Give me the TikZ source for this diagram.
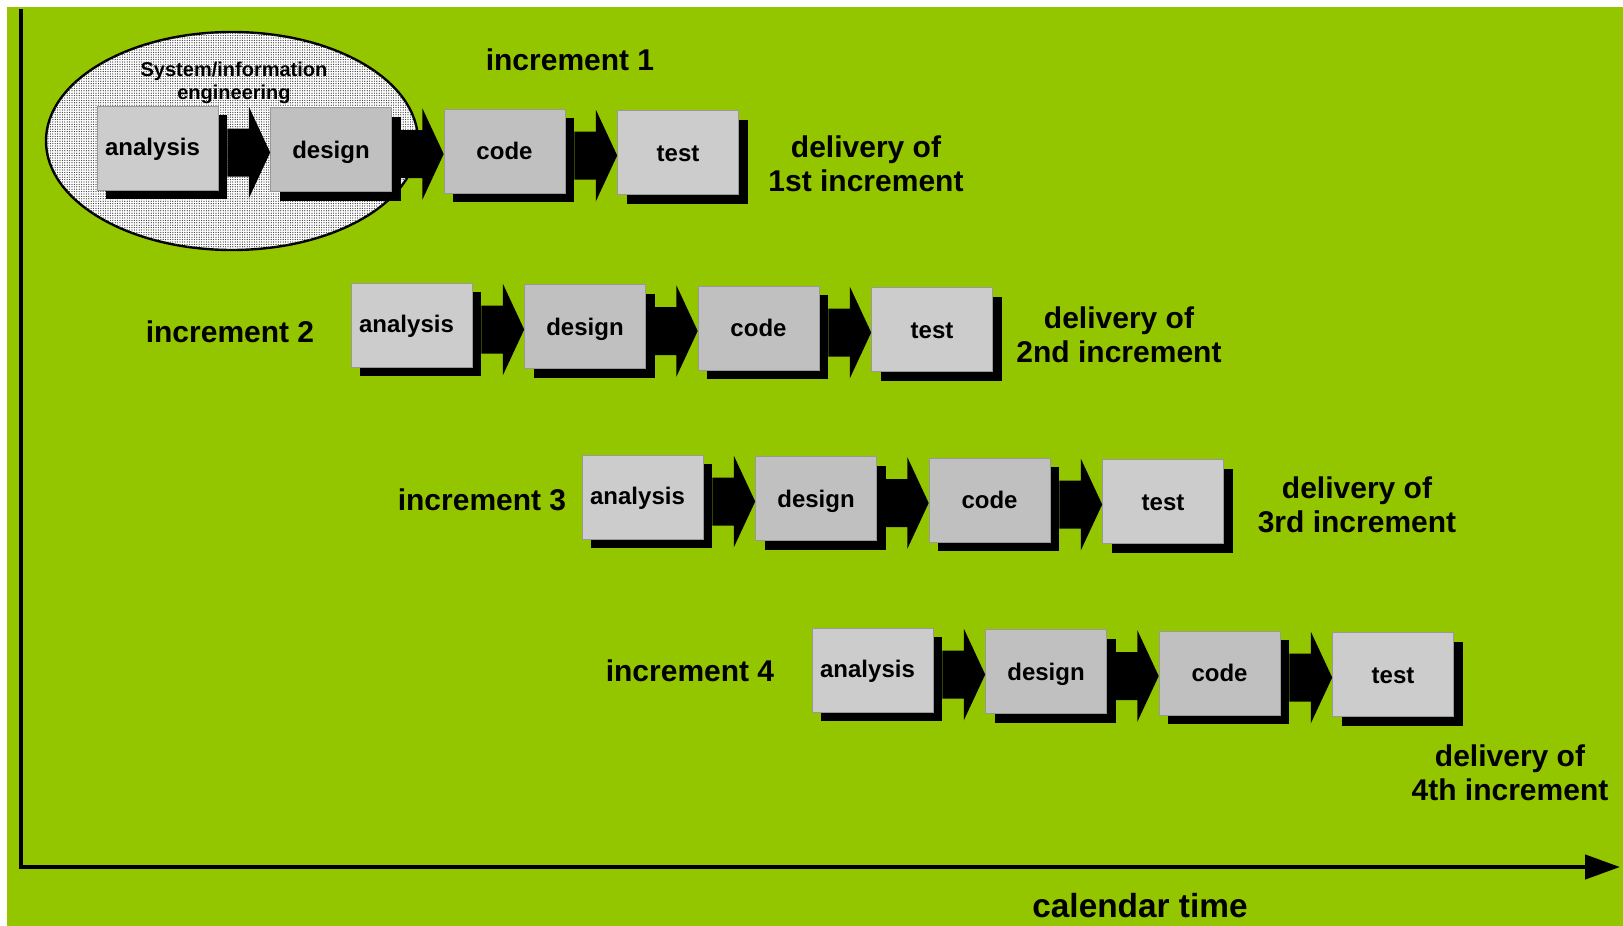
\documentclass[tikz,border=0pt]{standalone}
\usepackage{fontspec}
\setmainfont{Liberation Sans}
\usetikzlibrary{calc,shadows,arrows.meta,patterns.meta}
\definecolor{slidegreen}{RGB}{148,198,0}
\definecolor{lightbox}{RGB}{204,204,204}
\definecolor{darkbox}{RGB}{192,192,192}

\begin{document}
\begin{tikzpicture}[x=0.5pt,y=-0.5pt]
	\tikzstyle{stage} = [minimum width=60.5pt,minimum height=42pt,inner sep=0pt,text height=8.6pt,text depth=0pt,draw=black!40,line width=0.3pt,font=\fontsize{12}{14}\selectfont\bfseries,drop shadow={shadow xshift=4.5pt,shadow yshift=-4.5pt,fill=black,opacity=1}]
	\tikzstyle{heading} = [font=\fontsize{15}{17}\selectfont\bfseries,align=center]
	% background
	\fill[white] (0,0) rectangle (1623,926);
	\fill[slidegreen] (7,7) rectangle (1623,926);
	\useasboundingbox (0,0) rectangle (1623,926);
	% system/information engineering
	\draw[line width=1.2pt,fill=white,postaction={pattern={Dots[distance=1.2pt,radius=0.32pt]},pattern color=black!80}] (232,141) ellipse [x radius=93pt,y radius=54.5pt];
	\node[font=\fontsize{10}{11.5}\selectfont\bfseries,align=center] (sysinfo) at (234,83) {System/information\\engineering};
	% time axis
	\draw[line width=2.2pt,-{Triangle[length=17.5pt,width=12pt]}] (21,9) |- (1620,867);
	\node[font=\fontsize{16.7}{19}\selectfont\bfseries] (caltime) at (1140,906) {calendar time};
	% increments
	\foreach \i/\px/\py in {1/97/106,2/351/283,3/582/455,4/812/628}{
		\foreach \s/\c/\sx/\sy [count=\j from 0] in {analysis/lightbox/5pt/0.8pt,design/darkbox/0pt/0pt,code/darkbox/0pt/0pt,test/lightbox/0pt/0pt}
			\node[stage,fill=\c] (\s\i) at ({\px+60.5+\j*173.5},{\py+42+\j*1.5}) {\raisebox{\sy}{\s}\hspace*{\sx}};
		% block arrows between stages
		\foreach \a/\b in {analysis/design,design/code,code/test}
			\fill let \p1=(\a\i.east), \p2=(\b\i.west) in
				(\x1+4.5pt,\y1+9.75pt) -- ({(\x1+4.5pt+\x2)/2},\y1+9.75pt) -- ({(\x1+4.5pt+\x2)/2},\y1+20.75pt)
				-- (\x2,\y1-2.25pt)
				-- ({(\x1+4.5pt+\x2)/2},\y1-25.25pt) -- ({(\x1+4.5pt+\x2)/2},\y1-14.25pt) -- (\x1+4.5pt,\y1-14.25pt) -- cycle;
	}
	% increment and delivery labels
	\foreach \i/\lx/\ly/\dx/\dy/\nth in {1/570/60/866/164/1st,2/230/332/1119/335/2nd,3/482/500/1357/505/3rd,4/690/671/1510/773/4th}{
		\node[heading] (inc\i) at (\lx,\ly) {increment \i};
		\node[heading] (deliv\i) at (\dx,\dy) {delivery of\\\nth\ increment};
	}
\end{tikzpicture}
\end{document}
